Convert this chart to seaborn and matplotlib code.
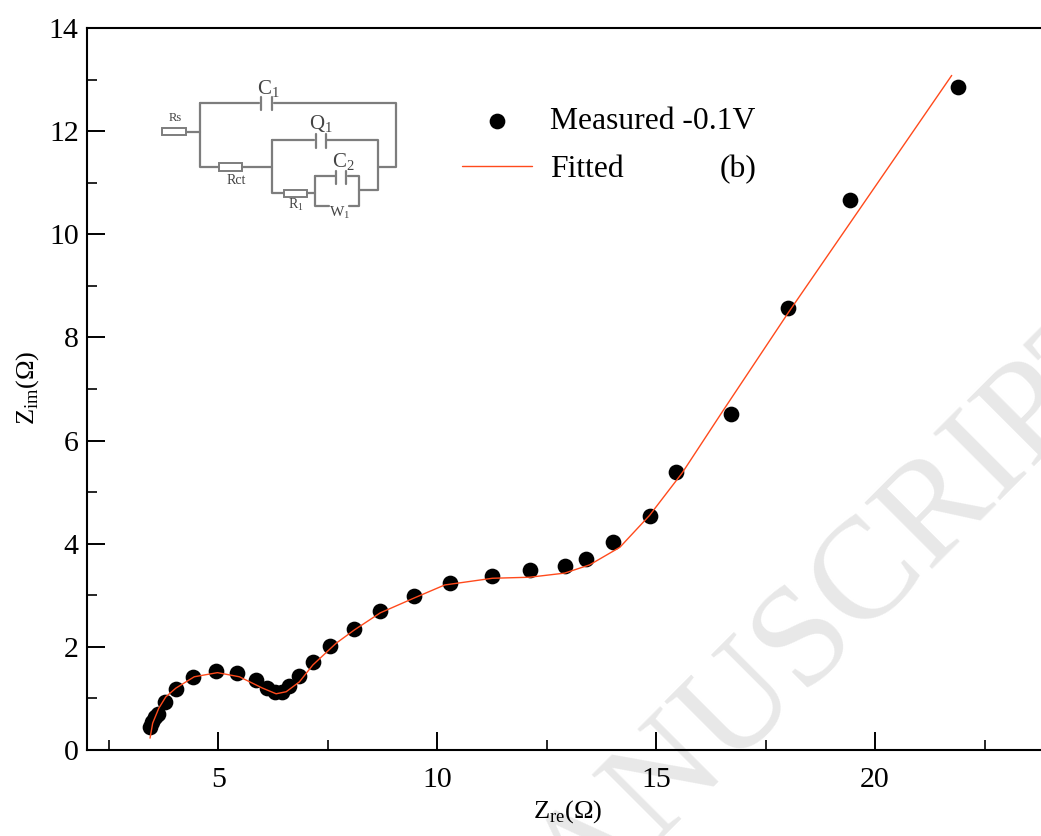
import seaborn as sns
import matplotlib.pyplot as plt
import pandas as pd
from matplotlib.ticker import MultipleLocator

# measured points
z_re = [3.44, 3.49, 3.55, 3.63, 3.78, 4.04, 4.43, 4.95, 5.43, 5.85, 6.12, 6.30, 6.46, 6.62, 6.85, 7.16,
        7.56, 8.09, 8.70, 9.48, 10.30, 11.26, 12.11, 12.91, 13.39, 14.01, 14.85, 15.45, 16.70, 18.01, 19.42, 21.89]
z_im = [0.44, 0.55, 0.64, 0.70, 0.93, 1.18, 1.41, 1.53, 1.50, 1.36, 1.20, 1.12, 1.13, 1.24, 1.43, 1.71,
        2.02, 2.34, 2.69, 2.98, 3.24, 3.37, 3.49, 3.57, 3.70, 4.03, 4.53, 5.39, 6.51, 8.57, 10.66, 12.85]

# fitted curve
fit_re = [3.44, 3.50, 3.64, 3.80, 4.03, 4.45, 4.98, 5.48, 6.01, 6.32, 6.55, 6.85, 7.16, 7.69, 8.11, 8.70,
          9.48, 10.17, 11.26, 12.11, 12.91, 13.48, 14.17, 14.85, 15.60, 16.52, 18.01, 21.75]
fit_im = [0.23, 0.52, 0.81, 1.03, 1.20, 1.42, 1.50, 1.42, 1.20, 1.09, 1.13, 1.32, 1.65, 2.07, 2.33, 2.66,
          2.95, 3.20, 3.33, 3.35, 3.43, 3.59, 3.93, 4.55, 5.38, 6.57, 8.47, 13.08]

measured = pd.DataFrame({"re": z_re, "im": z_im})
fitted = pd.DataFrame({"re": fit_re, "im": fit_im})

W, H = 1041, 836
sns.set_theme(style="ticks")
plt.rcParams["font.family"] = ["Liberation Serif", "DejaVu Serif"]
plt.rcParams["mathtext.fontset"] = "custom"
plt.rcParams["mathtext.rm"] = "Liberation Serif"
plt.rcParams["text.color"] = "black"
plt.rcParams["axes.labelcolor"] = "black"
plt.rcParams["xtick.labelcolor"] = "black"
plt.rcParams["ytick.labelcolor"] = "black"

fig = plt.figure(figsize=(W / 100, H / 100), dpi=100, facecolor="white")

# watermark goes under everything
fig.text(796, H - 652, "MANUSCRIPT", transform=None, fontsize=104, color="#e8e8e8", rotation=45,
         rotation_mode="anchor", ha="center", va="center", zorder=-1)

ax = fig.add_axes([87 / W, 1 - 750 / H, (W - 87) / W, (750 - 28) / H])
ax.patch.set_alpha(0)

sns.scatterplot(data=measured, x="re", y="im", ax=ax, s=128, color="black", linewidth=0,
                label="Measured -0.1V", zorder=3, clip_on=False)
sns.lineplot(data=fitted, x="re", y="im", ax=ax, sort=False, estimator=None, color="#ff4a1c", linewidth=1.0,
             label="Fitted", zorder=4)

ax.set_xlim(2, 23.79)
ax.set_ylim(0, 14)
ax.xaxis.set_major_locator(MultipleLocator(5))
ax.xaxis.set_minor_locator(MultipleLocator(2.5))
ax.yaxis.set_major_locator(MultipleLocator(2))
ax.yaxis.set_minor_locator(MultipleLocator(1))
ax.tick_params(which="major", direction="in", length=13, width=1.4, labelsize=21.5, pad=12, color="black")
ax.tick_params(which="minor", direction="in", length=7, width=1.4)
ax.tick_params(axis="y", which="major", pad=6)
ax.spines["right"].set_visible(False)
for side in ["left", "top", "bottom"]:
    ax.spines[side].set_linewidth(1.5)
    ax.spines[side].set_color("black")

ax.set_xlabel(r"Z$_{\mathrm{re}}$(Ω)", fontsize=19)
ax.set_ylabel(r"Z$_{\mathrm{im}}$(Ω)", fontsize=19)
ax.xaxis.set_label_coords((568 - 87) / (W - 87), (750 - 798) / (750 - 28), transform=ax.transAxes)
ax.yaxis.set_label_coords((41 - 87) / (W - 87), (750 - 388) / (750 - 28), transform=ax.transAxes)

ax.legend(loc="upper left", bbox_to_anchor=((462 - 87) / (W - 87), (750 - 107) / (750 - 28)), frameon=False,
          fontsize=22.8, handlelength=2.2, handletextpad=0.57, labelspacing=0.6, borderpad=0, borderaxespad=0)
ax.text(720, H - 170, "(b)", transform=None, fontsize=22.8, va="center", ha="left")

# circuit sketch in the corner, pixel space of the figure
ink = "#7d7d7d"
wires = [
    [(200, 103), (259, 103)], [(274, 103), (396, 103), (396, 167), (378, 167)],
    [(200, 103), (200, 167), (219, 167)], [(187, 132), (200, 132)], [(242, 167), (272, 167)],
    [(272, 140), (272, 193), (283, 193)], [(272, 140), (314, 140)], [(327, 140), (378, 140), (378, 190), (359, 190)],
    [(307, 193), (315, 193)], [(315, 176), (315, 206), (329, 206)], [(315, 176), (335, 176)],
    [(348, 176), (359, 176), (359, 206), (349, 206)],
    [(261, 97), (261, 110)], [(272, 97), (272, 110)], [(316, 134), (316, 148)], [(326, 134), (326, 148)],
    [(336, 171), (336, 184)], [(346, 171), (346, 184)],
]
resistors = [(162, 128, 24, 7), (219, 163, 23, 8), (284, 190, 23, 7)]
labels = [("C$_1$", 268, 89, 15), ("Rs", 175, 118, 9), ("Q$_1$", 321, 124, 15), ("C$_2$", 343, 162, 15),
          ("Rct", 236, 181, 10), ("R$_1$", 296, 205, 10), ("W$_1$", 340, 213, 11)]
for wire in wires:
    fig.add_artist(plt.Line2D([p[0] / W for p in wire], [1 - p[1] / H for p in wire], color=ink, linewidth=1.6))
for x0, y0, w, h in resistors:
    fig.add_artist(plt.Rectangle((x0 / W, 1 - (y0 + h) / H), w / W, h / H, facecolor="white", edgecolor=ink, linewidth=1.4))
for text, x, y, size in labels:
    fig.text(x / W, 1 - y / H, text, fontsize=size, color="#444444", ha="center", va="center")

fig.savefig("out.png", dpi=100)
